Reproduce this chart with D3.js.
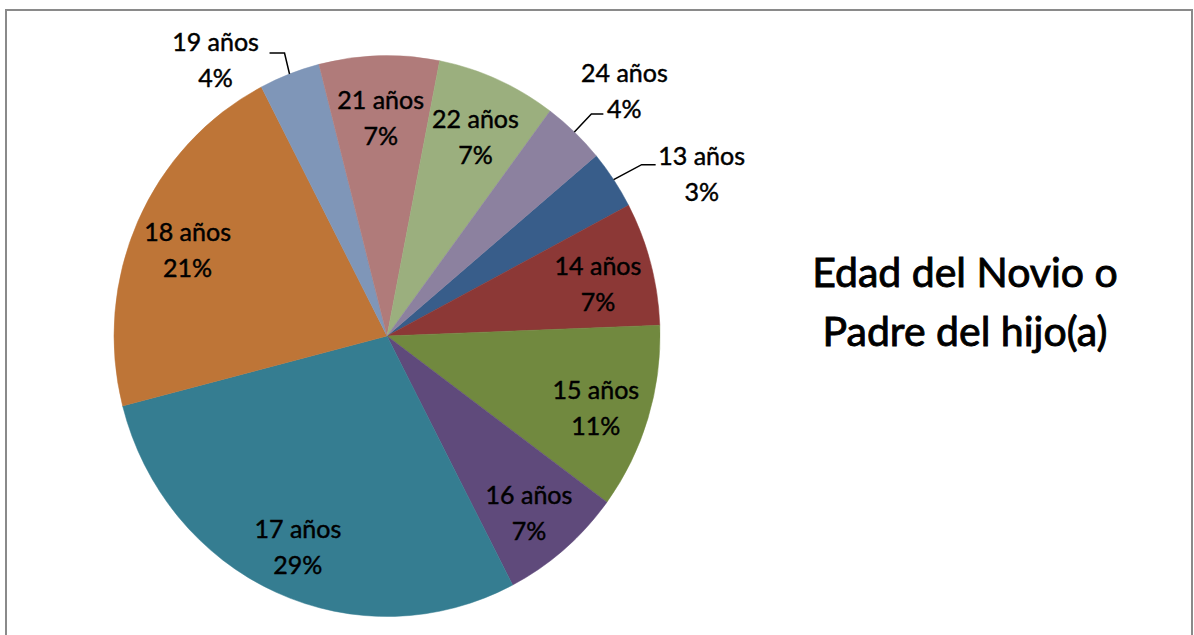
<!DOCTYPE html>
<html>
<head>
<meta charset="utf-8">
<script src="https://cdn.jsdelivr.net/npm/d3@7"></script>
<style>
  body { margin: 0; background: #fff; }
  text { font-family: Lato, "Open Sans", sans-serif; fill: #000; stroke: #000; stroke-width: 0.45px; }
</style>
</head>
<body>
<div id="my_pie"></div>
<script>

// ======================= //
// DATA
// ======================= //

// Ages (slice order, clockwise)
var ages = ["13 años", "14 años", "15 años", "16 años", "17 años", "18 años", "19 años", "21 años", "22 años", "24 años"]

// Share of answers
var shares = [3.4, 7.1, 10.7, 7.3, 28.6, 21.4, 3.6, 7.1, 7.1, 3.7]

// Slice colours (Excel 2007 palette)
var colors = ["#385D8A", "#8C3836", "#71893F", "#5F4A7B", "#357D91", "#BE7537", "#7F96B8", "#B07B7A", "#9BAF7E", "#8C819F"]

// Title lines
var titleLines = ["Edad del Novio o", "Padre del hijo(a)"]

// labels that sit outside the pie, with a leader line
var outsideLabels = ["13 años", "24 años", "19 años"]


// ======================= //
// SVG AREA
// ======================= //

var W = 1194, H = 635
var cx = 387, cy = 336,
    rx = 273, ry = 280.5

var svg = d3.select("#my_pie")
  .append("svg")
    .attr("width", W)
    .attr("height", H)

// chart frame
svg.append("rect")
  .attr("x", 6)
  .attr("y", 10)
  .attr("width", 1186)
  .attr("height", 640)
  .attr("fill", "none")
  .attr("stroke", "#8a8a8a")
  .attr("stroke-width", 2)


// ======================= //
// PIE
// ======================= //

var start = 50 * Math.PI / 180
var pie = d3.pie()
  .sort(null)
  .startAngle(start)
  .endAngle(start + 2 * Math.PI)
  .value(function(d){ return d.value })

var data = ages.map(function(a, i){ return { age: a, value: shares[i], color: colors[i] } })
var arcs = pie(data)
var total = d3.sum(shares)

var arc = d3.arc().innerRadius(0).outerRadius(rx)

// pie is a bit taller than wide in the picture
var gPie = svg.append("g")
  .attr("transform", "translate(" + cx + "," + cy + ") scale(1," + (ry / rx) + ")")

gPie.selectAll("path")
  .data(arcs)
  .enter()
  .append("path")
    .attr("d", arc)
    .attr("fill", function(d){ return d.data.color })
    .attr("stroke", function(d){ return d.data.color })
    .attr("stroke-width", 0.5)

// point on the ellipse at angle a, fraction k of the radius
function pt(a, k) {
  return [cx + k * rx * Math.sin(a), cy - k * ry * Math.cos(a)]
}
function mid(d) { return (d.startAngle + d.endAngle) / 2 }
function pctText(d) { return Math.round(d.data.value / total * 100) + "%" }


// ======================= //
// LABELS INSIDE
// ======================= //

var inner = arcs.filter(function(d){ return outsideLabels.indexOf(d.data.age) < 0 })

var innerG = svg.selectAll("innerLabels")
  .data(inner)
  .enter()
  .append("text")
    .attr("text-anchor", "middle")
    .style("font-size", "25px")
    .attr("transform", function(d){
      var p = pt(mid(d), 0.8)
      return "translate(" + p[0] + "," + p[1] + ")"
    })
innerG.append("tspan")
  .attr("x", 0).attr("y", -3)
  .text(function(d){ return d.data.age })
innerG.append("tspan")
  .attr("x", 0).attr("y", 33)
  .text(pctText)


// ======================= //
// LABELS OUTSIDE + LEADERS
// ======================= //

// leader elbow (from the slice edge), horizontal run, text centre (from leader end)
var leaderLayout = {
  "13 años": { elbow: [28, -15], run: 14, text: [46, 10] },
  "24 años": { elbow: [17, -18], run: 12, text: [21, -22] },
  "19 años": { elbow: [-5, -21], run: -15, text: [-54, 8] }
}

var outer = arcs.filter(function(d){ return outsideLabels.indexOf(d.data.age) >= 0 })

outer.forEach(function(d){
  var L = leaderLayout[d.data.age]
  var p0 = pt(mid(d), 1.0)
  var p1 = [p0[0] + L.elbow[0], p0[1] + L.elbow[1]]
  var p2 = [p1[0] + L.run, p1[1]]
  svg.append("path")
    .attr("d", d3.line()([p0, p1, p2]))
    .attr("fill", "none")
    .attr("stroke", "#000")
    .attr("stroke-width", 1.5)

  var t = svg.append("text")
    .attr("text-anchor", "middle")
    .style("font-size", "25px")
    .attr("transform", "translate(" + (p2[0] + L.text[0]) + "," + (p2[1] + L.text[1]) + ")")
  t.append("tspan").attr("x", 0).attr("y", -10).text(d.data.age)
  t.append("tspan").attr("x", 0).attr("y", 26).text(pctText(d))
})


// ======================= //
// TITLE
// ======================= //

svg.selectAll("titleLines")
  .data(titleLines)
  .enter()
  .append("text")
    .attr("x", 965)
    .attr("y", function(d, i){ return 287 + i * 59 })
    .attr("text-anchor", "middle")
    .style("font-size", "41px")
    .style("stroke-width", "0.9px")
    .text(function(d){ return d })

</script>
</body>
</html>
